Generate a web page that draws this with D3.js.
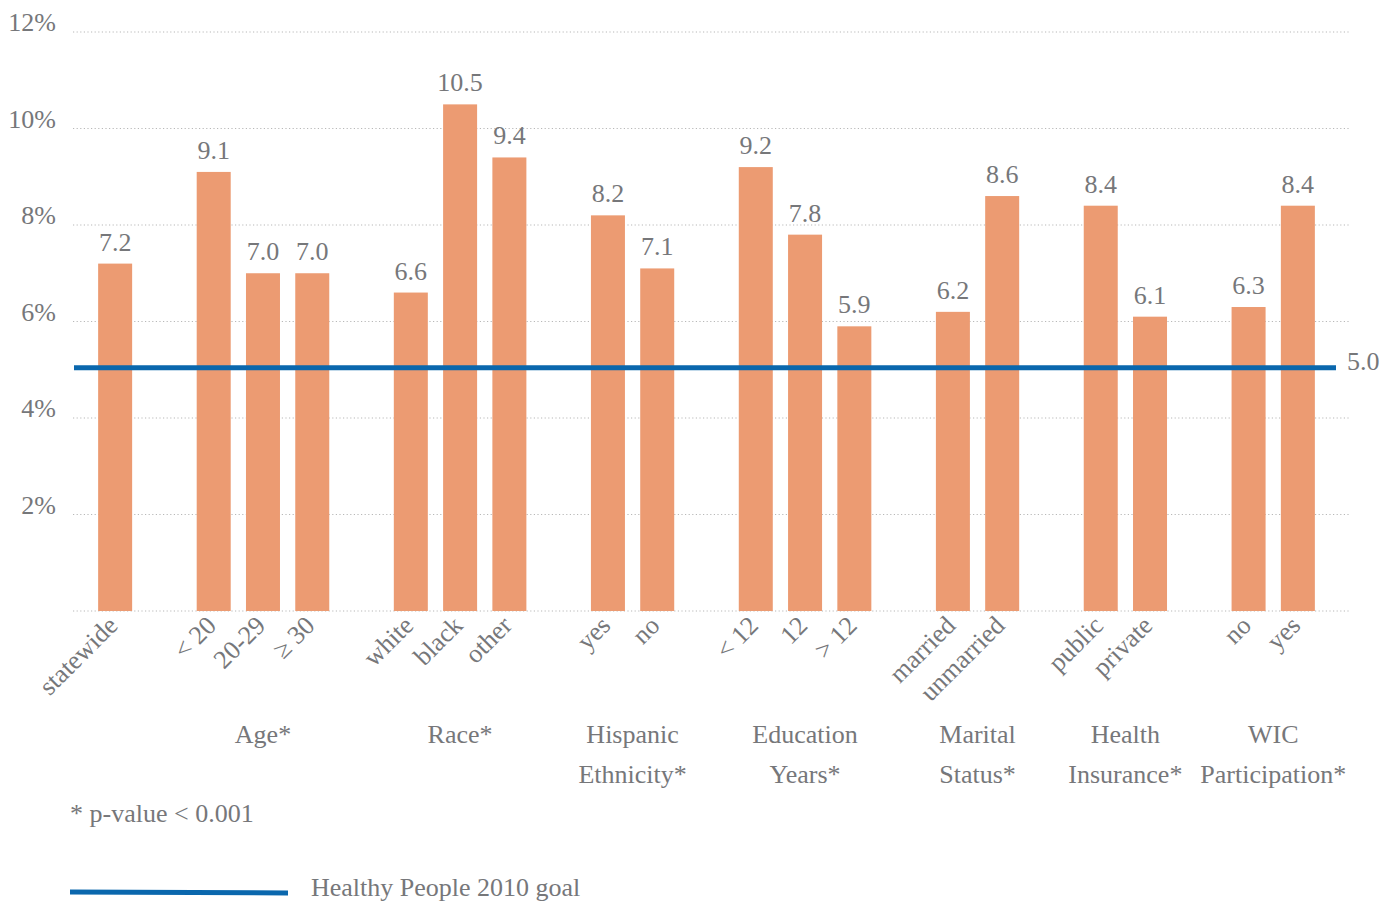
<!DOCTYPE html>
<html><head><meta charset="utf-8">
<script src="https://cdn.jsdelivr.net/npm/d3@7"></script>
<style>
body{margin:0;background:#fff;}
text{font-family:"Liberation Serif","Times New Roman",serif;fill:#76777a;}
</style></head>
<body><svg id="c" width="1397" height="903"></svg>
<script>
const categories = ["statewide","< 20","20-29","\u2265 30","white","black","other","yes","no","< 12","12","> 12","married","unmarried","public","private","no","yes"];
const groups = ["","Age*","Age*","Age*","Race*","Race*","Race*","Hispanic Ethnicity*","Hispanic Ethnicity*","Education Years*","Education Years*","Education Years*","Marital Status*","Marital Status*","Health Insurance*","Health Insurance*","WIC Participation*","WIC Participation*"];
const values = [7.2,9.1,7.0,7.0,6.6,10.5,9.4,8.2,7.1,9.2,7.8,5.9,6.2,8.6,8.4,6.1,6.3,8.4];
const yTicks = [0,2,4,6,8,10,12];
const yTickLabels = ["","2%","4%","6%","8%","10%","12%"];
const goal = 5.0;
const goalLabel = "5.0";
const footnote = "* p-value < 0.001";
const legendLabel = "Healthy People 2010 goal";

const FS = "26px";
const svg = d3.select("#c");
const slots = [];
categories.forEach((c,i)=>{
  if(i>0 && groups[i]!==groups[i-1]) slots.push("gap"+i);
  slots.push("k"+i);
});
const x = d3.scaleBand().domain(slots).range([90.5,1322.5]).paddingInner(0.31).paddingOuter(0.155);
const y = d3.scaleLinear().domain([0,12]).range([611,32]);
const cx = i => x("k"+i)+x.bandwidth()/2;

svg.append("g").selectAll("line").data(yTicks).join("line")
  .attr("x1",73).attr("x2",1350).attr("y1",d=>y(d)).attr("y2",d=>y(d))
  .attr("stroke","#b8b8b8").attr("stroke-width",1.2).attr("stroke-dasharray","1.2,2.4");

svg.append("g").selectAll("text").data(yTicks).join("text")
  .attr("x",56).attr("y",d=>y(d)-1).attr("text-anchor","end")
  .style("font-size",FS).text((d,i)=>yTickLabels[i]);

svg.append("g").selectAll("rect").data(values).join("rect")
  .attr("x",(d,i)=>x("k"+i)).attr("width",x.bandwidth())
  .attr("y",d=>y(d)).attr("height",d=>y(0)-y(d))
  .attr("fill","#ec9b72");

svg.append("g").selectAll("text").data(values).join("text")
  .attr("x",(d,i)=>cx(i)).attr("y",d=>y(d)-13).attr("text-anchor","middle")
  .style("font-size",FS).text(d=>d.toFixed(1));

svg.append("line").attr("x1",74).attr("x2",1336).attr("y1",y(goal)-2).attr("y2",y(goal)-2)
  .attr("stroke","#0a67ad").attr("stroke-width",5);
svg.append("text").attr("x",1347).attr("y",y(goal)).style("font-size",FS).text(goalLabel);

svg.append("g").selectAll("text").data(categories).join("text")
  .attr("text-anchor","end")
  .attr("transform",(d,i)=>`translate(${cx(i)+4},${627}) rotate(-45)`)
  .style("font-size",FS).text(d=>d);

const gnames = Array.from(new Set(groups.filter(g=>g)));
gnames.forEach(g=>{
  const idx = groups.map((v,i)=>v===g?i:-1).filter(i=>i>=0);
  const gx = d3.mean(idx, cx);
  const words = g.split(" ");
  const t = svg.append("text").attr("text-anchor","middle").style("font-size",FS);
  words.forEach((w,j)=>t.append("tspan").attr("x",gx).attr("y",743+j*40).text(w));
});

svg.append("text").attr("x",70).attr("y",822).style("font-size",FS).text(footnote);
svg.append("line").attr("x1",70).attr("x2",288).attr("y1",892).attr("y2",893)
  .attr("stroke","#0a67ad").attr("stroke-width",5);
svg.append("text").attr("x",311).attr("y",896).style("font-size",FS).text(legendLabel);
</script></body></html>
